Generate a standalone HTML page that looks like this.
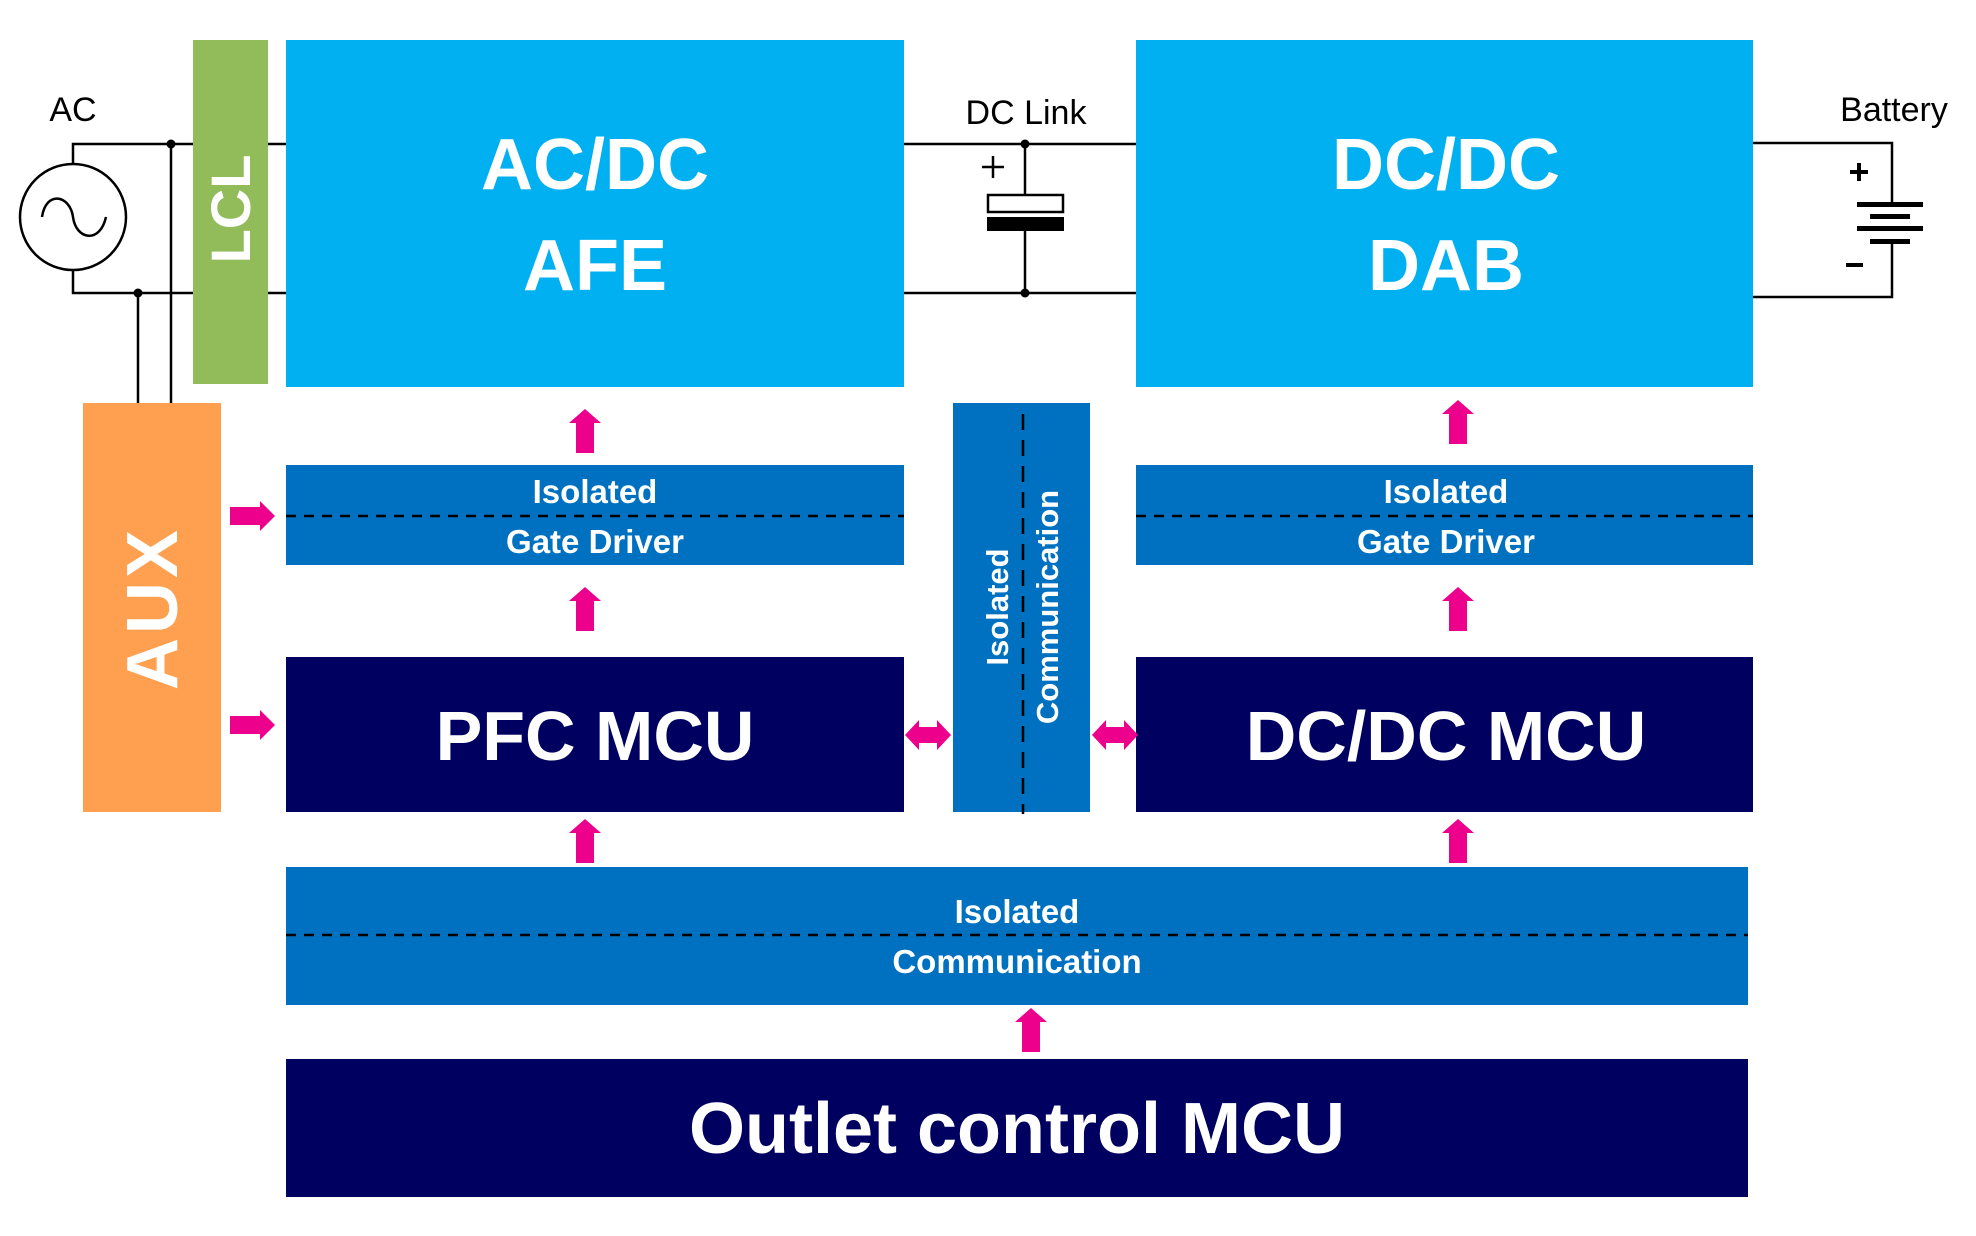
<!DOCTYPE html>
<html><head><meta charset="utf-8"><style>
html,body{margin:0;padding:0;background:#fff;}
svg{display:block;}
text{font-family:"Liberation Sans",sans-serif;}
</style></head><body>
<svg width="1976" height="1236" viewBox="0 0 1976 1236" xmlns="http://www.w3.org/2000/svg">
<defs>
<g id="up"><polygon points="0,0 16,14 9,14 9,44 -9,44 -9,14 -16,14" fill="#EC008C"/></g>
<g id="right"><polygon points="0,-9 30,-9 30,-15 45,0 30,15 30,9 0,9" fill="#EC008C"/></g>
<g id="dbl"><polygon points="0,0 14,-15 14,-8 32,-8 32,-15 46,0 32,15 32,8 14,8 14,15" fill="#EC008C"/></g>
</defs>
<rect width="1976" height="1236" fill="#fff"/>

<g stroke="#000" stroke-width="2.5" fill="none">
<circle cx="73" cy="217" r="53"/>
<path d="M42,217 C46,190 70,195 73,217 C76,240 100,244 106,217"/>
<polyline points="73,164 73,144 193,144"/>
<polyline points="73,270 73,293 193,293"/>
<line x1="268" y1="144" x2="286" y2="144"/>
<line x1="268" y1="293" x2="286" y2="293"/>
<line x1="171" y1="144" x2="171" y2="403"/>
<line x1="138" y1="293" x2="138" y2="403"/>
<line x1="904" y1="144" x2="1136" y2="144"/>
<line x1="904" y1="293" x2="1136" y2="293"/>
<line x1="1025" y1="144" x2="1025" y2="195"/>
<line x1="1025" y1="231" x2="1025" y2="293"/>
<rect x="988" y="195" width="75" height="17" stroke-width="2.5"/>
<line x1="993" y1="156" x2="993" y2="178"/>
<line x1="982" y1="167" x2="1004" y2="167"/>
<polyline points="1753,143 1892,143 1892,204"/>
<polyline points="1892,241 1892,297 1753,297"/>
</g>
<circle cx="171" cy="144" r="4.5"/>
<circle cx="138" cy="293" r="4.5"/>
<circle cx="1025" cy="144" r="4.5"/>
<circle cx="1025" cy="293" r="4.5"/>
<rect x="987" y="217" width="77" height="14" fill="#000"/>
<g fill="#000">
<rect x="1857" y="202" width="66" height="5"/>
<rect x="1870" y="214" width="40" height="5"/>
<rect x="1857" y="226" width="66" height="5"/>
<rect x="1870" y="239" width="40" height="5"/>
<rect x="1850" y="170" width="18" height="4"/>
<rect x="1857" y="163" width="4" height="18"/>
<rect x="1846" y="263" width="17" height="4"/>
</g>
<text x="73" y="121" font-size="34" text-anchor="middle">AC</text>
<text x="1026" y="124" font-size="34" text-anchor="middle">DC Link</text>
<text x="1894" y="121" font-size="34" text-anchor="middle">Battery</text>

<rect x="193" y="40" width="75" height="344" fill="#92BC5A"/>
<text transform="translate(250,209) rotate(-90)" font-size="56" font-weight="bold" fill="#fff" text-anchor="middle">LCL</text>

<rect x="286" y="40" width="618" height="347" fill="#00B0F0"/>
<text x="595" y="189" font-size="72" font-weight="bold" fill="#fff" text-anchor="middle">AC/DC</text>
<text x="595" y="290" font-size="72" font-weight="bold" fill="#fff" text-anchor="middle">AFE</text>
<rect x="1136" y="40" width="617" height="347" fill="#00B0F0"/>
<text x="1446" y="189" font-size="72" font-weight="bold" fill="#fff" text-anchor="middle">DC/DC</text>
<text x="1446" y="290" font-size="72" font-weight="bold" fill="#fff" text-anchor="middle">DAB</text>

<rect x="83" y="403" width="138" height="409" fill="#FF9F50"/>
<text transform="translate(177,608) rotate(-90)" font-size="72" font-weight="bold" fill="#fff" text-anchor="middle" letter-spacing="4">AUX</text>

<rect x="286" y="465" width="618" height="100" fill="#0070C0"/>
<line x1="286" y1="516" x2="904" y2="516" stroke="#000" stroke-width="2.5" stroke-dasharray="10,8"/>
<text x="595" y="503" font-size="33" font-weight="bold" fill="#fff" text-anchor="middle">Isolated</text>
<text x="595" y="553" font-size="33" font-weight="bold" fill="#fff" text-anchor="middle">Gate Driver</text>
<rect x="1136" y="465" width="617" height="100" fill="#0070C0"/>
<line x1="1136" y1="516" x2="1753" y2="516" stroke="#000" stroke-width="2.5" stroke-dasharray="10,8"/>
<text x="1446" y="503" font-size="33" font-weight="bold" fill="#fff" text-anchor="middle">Isolated</text>
<text x="1446" y="553" font-size="33" font-weight="bold" fill="#fff" text-anchor="middle">Gate Driver</text>

<rect x="953" y="403" width="137" height="409" fill="#0070C0"/>
<line x1="1023" y1="414" x2="1023" y2="814" stroke="#000" stroke-width="2.5" stroke-dasharray="16,10"/>
<text transform="translate(1008,607) rotate(-90)" font-size="31" font-weight="bold" fill="#fff" text-anchor="middle">Isolated</text>
<text transform="translate(1058,607) rotate(-90)" font-size="31" font-weight="bold" fill="#fff" text-anchor="middle">Communication</text>

<rect x="286" y="657" width="618" height="155" fill="#000060"/>
<text x="595" y="760" font-size="70" font-weight="bold" fill="#fff" text-anchor="middle">PFC MCU</text>
<rect x="1136" y="657" width="617" height="155" fill="#000060"/>
<text x="1446" y="760" font-size="70" font-weight="bold" fill="#fff" text-anchor="middle">DC/DC MCU</text>

<rect x="286" y="867" width="1462" height="138" fill="#0070C0"/>
<line x1="286" y1="935" x2="1748" y2="935" stroke="#000" stroke-width="2.5" stroke-dasharray="10,8"/>
<text x="1017" y="923" font-size="33" font-weight="bold" fill="#fff" text-anchor="middle">Isolated</text>
<text x="1017" y="973" font-size="33" font-weight="bold" fill="#fff" text-anchor="middle">Communication</text>

<rect x="286" y="1059" width="1462" height="138" fill="#000060"/>
<text x="1017" y="1153" font-size="72" font-weight="bold" fill="#fff" text-anchor="middle">Outlet control MCU</text>

<use href="#up" x="585" y="409"/>
<use href="#up" x="585" y="587"/>
<use href="#up" x="585" y="819"/>
<use href="#up" x="1458" y="400"/>
<use href="#up" x="1458" y="587"/>
<use href="#up" x="1458" y="819"/>
<use href="#up" x="1031" y="1008"/>
<use href="#right" x="230" y="516"/>
<use href="#right" x="230" y="725"/>
<use href="#dbl" x="905" y="735"/>
<use href="#dbl" x="1092" y="735"/>
</svg>
</body></html>
